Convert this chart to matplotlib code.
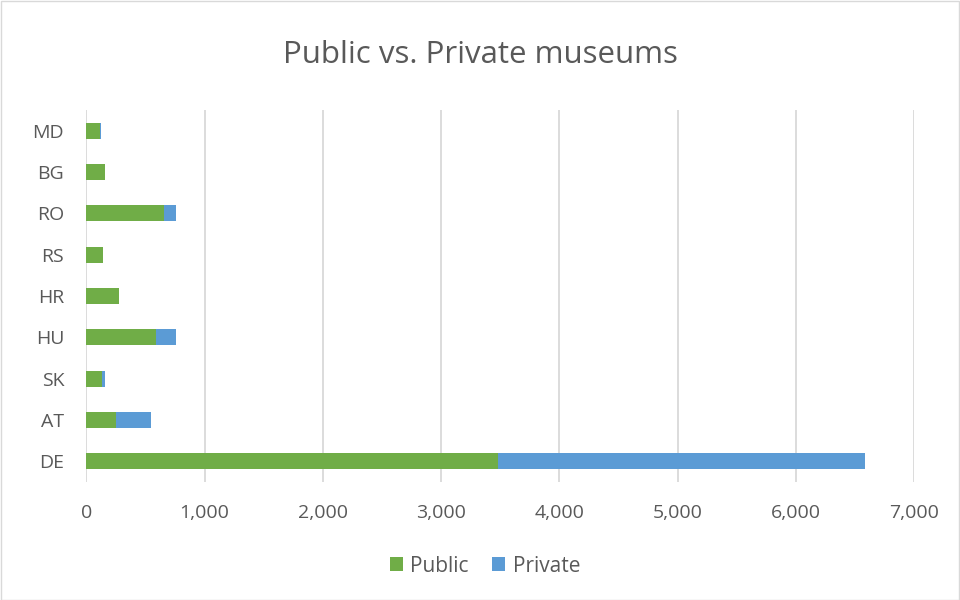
import matplotlib
matplotlib.use("Agg")
import matplotlib.pyplot as plt
from matplotlib.patches import Rectangle

countries = ["DE", "AT", "SK", "HU", "HR", "RS", "RO", "BG", "MD"]
public = [3483, 254, 133, 592, 279, 139, 655, 156, 118]
private = [3099, 291, 23, 164, 0, 2, 106, 3, 9]
xticks = [0, 1000, 2000, 3000, 4000, 5000, 6000, 7000]

plt.rcParams['font.family'] = ['Open Sans', 'DejaVu Sans']
txt = '#595959'

fig = plt.figure(figsize=(9.6, 6), dpi=100)
ax = fig.add_axes([86.3/960, 1 - 482/600, (914 - 86.3)/960, (482 - 110)/600])

y = range(len(countries))
ax.barh(y, public, height=0.39, color='#70AD47', label='Public', zorder=3)
ax.barh(y, private, left=public, height=0.39, color='#5B9BD5', label='Private', zorder=3)

ax.set_xlim(0, 7000)
ax.set_ylim(-0.5, len(countries) - 0.5)
ax.set_xticks(xticks)
ax.set_xticklabels([f"{v:,}" for v in xticks])
ax.set_yticks(list(y))
ax.set_yticklabels(countries)
ax.tick_params(axis='both', length=0, colors=txt, labelsize=14)
ax.tick_params(axis='x', pad=16)
ax.tick_params(axis='y', pad=16)
ax.grid(axis='x', color='#D9D9D9', linewidth=1.3, zorder=0)
for s in ax.spines.values():
    s.set_visible(False)

fig.text(0.5, 1 - 55/600, "Public vs. Private museums", ha='center', va='center',
         fontsize=22.5, color=txt)

leg = fig.legend(loc='center', bbox_to_anchor=(0.505, 1 - 566/600), ncol=2, frameon=False,
                 fontsize=15, handlelength=0.65, handleheight=0.65, handletextpad=0.35,
                 columnspacing=1.1)
for t in leg.get_texts():
    t.set_color(txt)

fig.patches.append(Rectangle((0.5/960, 0.5/600), 1 - 1.5/960, 1 - 1.5/600,
                             transform=fig.transFigure, fill=False,
                             edgecolor='#D9D9D9', linewidth=1))

fig.savefig("out.png", dpi=100)
